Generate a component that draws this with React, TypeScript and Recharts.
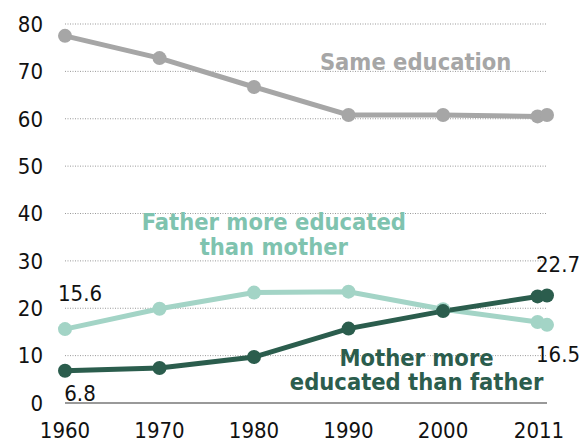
import React from "react";
import { LineChart, Line, XAxis, YAxis, CartesianGrid, ReferenceDot } from "recharts";

const years = [1960, 1970, 1980, 1990, 2000, 2010, 2011];
const sameEducation = [77.5, 72.8, 66.7, 60.8, 60.8, 60.5, 60.8];
const fatherMore = [15.6, 19.9, 23.3, 23.5, 19.8, 17.1, 16.5];
const motherMore = [6.8, 7.4, 9.7, 15.7, 19.4, 22.5, 22.7];
const xTicks = [1960, 1970, 1980, 1990, 2000, 2011];
const yTicks = [0, 10, 20, 30, 40, 50, 60, 70, 80];

const GRAY = "#a6a6a6";
const LIGHT = "#a3d4c6";
const DARK = "#2b5d4d";
const FONT = "'DejaVu Sans Condensed', 'DejaVu Sans', sans-serif";

const data = years.map((year, i) => ({
  year,
  same: sameEducation[i],
  father: fatherMore[i],
  mother: motherMore[i],
}));

// value labels only at the first and last points
function endLabel(dyFirst: number, dyLast: number, values: number[]) {
  return (props: any) => {
    const { x, y, index } = props;
    const style = { fontStretch: "condensed" as const };
    if (index === 0) {
      return (
        <text x={x + 15} y={y + dyFirst} textAnchor="middle" dominantBaseline="central" fontSize={22} fontFamily={FONT} style={style} fill="#111">
          {values[0].toFixed(1)}
        </text>
      );
    }
    if (index === values.length - 1) {
      return (
        <text x={x + 11} y={y + dyLast} textAnchor="middle" dominantBaseline="central" fontSize={22} fontFamily={FONT} style={style} fill="#111">
          {values[index].toFixed(1)}
        </text>
      );
    }
    return null;
  };
}

function note(lines: string[], color: string) {
  return (props: any) => {
    const { viewBox } = props;
    const cx = viewBox.x + (viewBox.width || 0) / 2;
    const cy = viewBox.y + (viewBox.height || 0) / 2;
    const step = 24.5;
    const start = cy - ((lines.length - 1) * step) / 2;
    return (
      <text textAnchor="middle" fontSize={23.5} fontWeight="bold" fontFamily={FONT} style={{ fontStretch: "condensed" }} fill={color}>
        {lines.map((l, i) => (
          <tspan key={i} x={cx} y={start + i * step} dominantBaseline="central">
            {l}
          </tspan>
        ))}
      </text>
    );
  };
}

const tickStyle = { fontSize: 22, fill: "#111", fontFamily: FONT, style: { fontStretch: "condensed" } };

function YearTick(props: any) {
  const { x, y, payload } = props;
  const shift = payload.value === 2011 ? -8 : 0;
  return (
    <text x={x + shift} y={y} dy="0.71em" textAnchor="middle" {...tickStyle}>
      {payload.value}
    </text>
  );
}

export default function App() {
  return (
    <div style={{ position: "absolute", left: 0, top: 0, background: "#fff" }}>
      <LineChart width={584} height={441} data={data} margin={{ top: 24, right: 37, bottom: 0, left: 0 }}>
        <CartesianGrid vertical={false} stroke="#999" strokeDasharray="1 1.5" />
        <XAxis
          dataKey="year"
          type="number"
          domain={[1960, 2011]}
          ticks={xTicks}
          tickSize={0}
          tickMargin={19}
          height={38}
          axisLine={{ stroke: "#999", strokeWidth: 2 }}
          tick={<YearTick />}
        />
        <YAxis
          domain={[0, 80]}
          ticks={yTicks}
          width={65}
          tickSize={0}
          tickMargin={22}
          axisLine={false}
          tick={tickStyle}
        />
        <Line
          dataKey="same"
          stroke={GRAY}
          strokeWidth={5}
          dot={{ r: 7, fill: GRAY, stroke: GRAY, strokeWidth: 0 }}
          isAnimationActive={false}
        />
        <Line
          dataKey="father"
          stroke={LIGHT}
          strokeWidth={5}
          dot={{ r: 7, fill: LIGHT, stroke: LIGHT, strokeWidth: 0 }}
          label={endLabel(-36, 30, fatherMore)}
          isAnimationActive={false}
        />
        <Line
          dataKey="mother"
          stroke={DARK}
          strokeWidth={5}
          dot={{ r: 7, fill: DARK, stroke: DARK, strokeWidth: 0 }}
          label={endLabel(23, -31, motherMore)}
          isAnimationActive={false}
        />
        <ReferenceDot x={1997.1} y={72} r={0} fill="none" stroke="none" label={note(["Same education"], GRAY)} />
        <ReferenceDot x={1982.1} y={35.6} r={0} fill="none" stroke="none" label={note(["Father more educated", "than mother"], "#7fc3af")} />
        <ReferenceDot x={1997.2} y={7.0} r={0} fill="none" stroke="none" label={note(["Mother more", "educated than father"], DARK)} />
      </LineChart>
    </div>
  );
}
